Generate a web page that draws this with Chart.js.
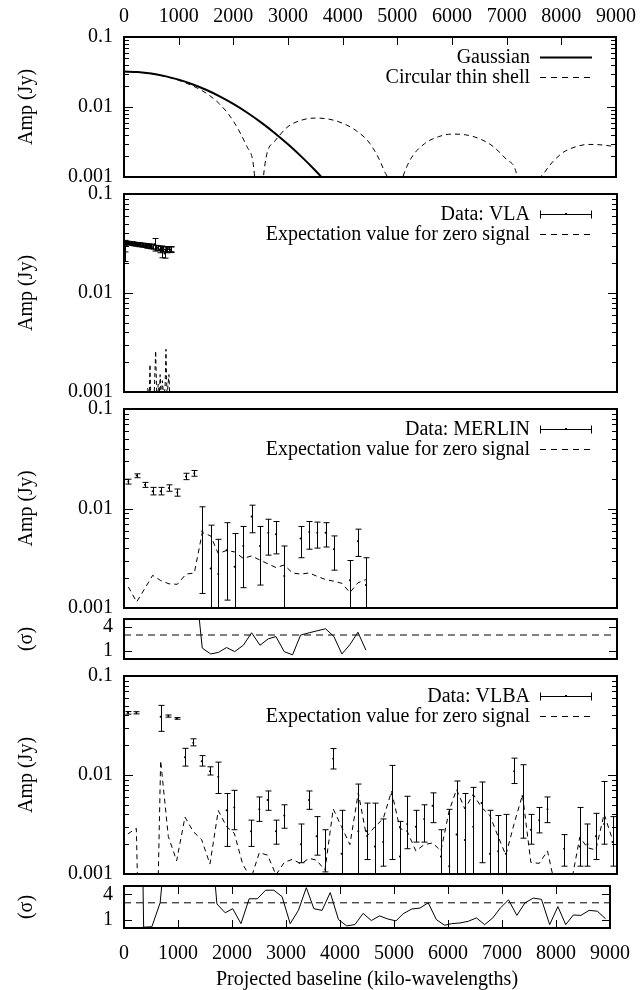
<!DOCTYPE html>
<html>
<head>
<meta charset="utf-8">
<script src="https://cdn.jsdelivr.net/npm/chart.js@4.4.0/dist/chart.umd.min.js"></script>
<style>
body { margin: 0; background: #fff; }
#hoja { position: relative; width: 644px; height: 990px; }
#hoja canvas { position: absolute; left: 0; }
</style>
</head>
<body>
<div id="hoja">
<canvas id="p1" width="644" height="200" style="top:0px"></canvas>
<canvas id="p2" width="644" height="244" style="top:171px"></canvas>
<canvas id="p3" width="644" height="245" style="top:386px"></canvas>
<canvas id="p4" width="644" height="86" style="top:596px"></canvas>
<canvas id="p5" width="644" height="244" style="top:653px"></canvas>
<canvas id="p6" width="644" height="127" style="top:863px"></canvas>
</div>
<script>
// ejes
const ticksX = [0, 1000, 2000, 3000, 4000, 5000, 6000, 7000, 8000, 9000];
const etiquetasX = ['0', '1000', '2000', '3000', '4000', '5000', '6000', '7000', '8000', '9000'];
const ticksAmp = [0.001, 0.01, 0.1];
const etiquetasAmp = ['0.001', '0.01', '0.1'];
const ticksSigma = [1, 4];
const etiquetasSigma = ['1', '4'];

// modelos (panel superior)
const gaussX = [0, 250, 500, 750, 1000, 1250, 1500, 1750, 2000, 2250, 2500, 2750, 3000, 3250, 3500, 3750];
const gaussAmp = [0.0321, 0.03154, 0.0300, 0.02761, 0.02458, 0.02117, 0.01763, 0.01421, 0.01108, 0.00835, 0.00609, 0.0043, 0.00293, 0.00194, 0.00124, 0.00076];
const shellX = [0, 250, 500, 750, 1000, 1250, 1500, 1750, 2000, 2250, 2400, 2470, 2550, 2750, 3000, 3250, 3500, 3750, 4000, 4250, 4500, 4750, 4900, 4940, 5000, 5100, 5250, 5500, 5750, 6000, 6250, 6500, 6750, 7000, 7200, 7410, 7500, 7700, 8000, 8250, 8500, 8750, 9000];
const shellAmp = [0.0320, 0.03147, 0.02989, 0.02737, 0.02404, 0.02012, 0.01583, 0.0110, 0.0063, 0.0027, 0.0008, 0.00001, 0.0010, 0.0032, 0.00525, 0.0065, 0.00695, 0.0067, 0.00586, 0.00457, 0.00299, 0.00127, 0.00026, 0.00001, 0.00038, 0.000995, 0.00184, 0.0030, 0.00376, 0.0041, 0.0040, 0.00353, 0.00274, 0.00177, 0.00094, 0.00001, 0.00038, 0.00118, 0.00215, 0.00268, 0.00292, 0.00287, 0.0027];

// VLA
const vlaX = [10, 25, 40, 60, 80, 100, 120, 140, 160, 180, 200, 225, 250, 275, 300, 325, 350, 375, 400, 425, 450, 475, 500, 530, 560, 590, 620, 650, 680, 700, 720, 740, 760, 790, 820, 850, 860];
const vlaAmp = [0.0256, 0.0300, 0.0322, 0.0318, 0.0323, 0.0316, 0.0319, 0.0314, 0.0317, 0.0311, 0.0314, 0.0309, 0.0312, 0.0306, 0.0309, 0.0303, 0.0306, 0.0300, 0.0303, 0.0297, 0.0300, 0.0294, 0.0297, 0.0291, 0.0310, 0.0288, 0.0284, 0.0275, 0.0282, 0.0262, 0.0278, 0.0250, 0.0276, 0.0272, 0.0279, 0.0274, 0.0277];
const vlaErr = [0.0048, 0.0040, 0.0012, 0.0010, 0.0010, 0.0011, 0.0010, 0.0012, 0.0011, 0.0012, 0.0011, 0.0012, 0.0011, 0.0013, 0.0012, 0.0012, 0.0013, 0.0012, 0.0013, 0.0014, 0.0013, 0.0014, 0.0015, 0.0014, 0.0045, 0.0015, 0.0016, 0.0020, 0.0016, 0.0035, 0.0017, 0.0025, 0.0018, 0.0017, 0.0016, 0.0018, 0.0016];
const vlaEspX = [400, 430, 460, 475, 490, 520, 550, 578, 600, 625, 645, 660, 680, 700, 725, 750, 766, 785, 805, 820, 840];
const vlaEsp = [0.0008, 0.0011, 0.0009, 0.0019, 0.0008, 0.0010, 0.0009, 0.0026, 0.0008, 0.0012, 0.0009, 0.0015, 0.0008, 0.0013, 0.0009, 0.0011, 0.0027, 0.0009, 0.0012, 0.0015, 0.0008];

// MERLIN
const merlinX = [79, 231, 383, 523, 669, 821, 973, 1131, 1284, 1429, 1582, 1721, 1874, 2020, 2178, 2330, 2482, 2634, 2774, 2925, 3077, 3224, 3382, 3528, 3680, 3832, 3978, 4124, 4270, 4416];
const merlinAmp = [0.0187, 0.0214, 0.0173, 0.0149, 0.0149, 0.0161, 0.0145, 0.0210, 0.0226, 0.0059, 0.0025, 0.0022, 0.0038, 0.0026, 0.0042, 0.0083, 0.0042, 0.0057, 0.0055, 0.0021, null, 0.0050, 0.0058, 0.0057, 0.0057, 0.0039, null, 0.0019, 0.0047, 0.0017];
const merlinLo = [0.0176, 0.0204, 0.0163, 0.0137, 0.0137, 0.0149, 0.0133, 0.0195, 0.0211, 0.0014, 0.0002, 0.0002, 0.0012, 0.0002, 0.0016, 0.0057, 0.0017, 0.0034, 0.0035, 0.0002, null, 0.0032, 0.0039, 0.0040, 0.0041, 0.0024, null, 0.0002, 0.0033, 0.0002];
const merlinHi = [0.0197, 0.0223, 0.0183, 0.0163, 0.0163, 0.0173, 0.0157, 0.0226, 0.0241, 0.0104, 0.0068, 0.0049, 0.0072, 0.0056, 0.0066, 0.0108, 0.0066, 0.0078, 0.0074, 0.0042, null, 0.0066, 0.0074, 0.0073, 0.0072, 0.0053, null, 0.0030, 0.0062, 0.0032];
const merlinEsp = [0.00163, 0.00115, 0.00158, 0.00213, 0.00189, 0.00175, 0.00173, 0.00219, 0.00225, 0.00573, 0.00531, 0.00352, 0.00379, 0.00366, 0.00315, 0.00334, 0.00303, 0.00277, 0.00255, 0.0027, 0.00225, 0.00219, 0.00225, 0.00208, 0.00193, 0.00186, 0.00177, 0.00143, 0.00179, 0.00193];
const merlinSig = [25, 28, 24, 22, 22, 23, 21, 12, 11, 1.36, 0.63, 0.82, 1.43, 0.92, 1.72, 3.28, 1.72, 2.52, 2.8, 0.92, 0.52, 2.99, 3.28, 3.53, 3.78, 2.8, 0.63, 1.79, 3.35, 1.11];

// VLBA
const vlbaX = [70, 225, 364, 516, 669, 809, 961, 1113, 1265, 1418, 1569, 1721, 1874, 2013, 2166, 2318, 2470, 2622, 2774, 2926, 3078, 3230, 3376, 3516, 3668, 3819, 3972, 4124, 4277, 4428, 4580, 4732, 4885, 5036, 5170, 5328, 5480, 5633, 5785, 5937, 6071, 6223, 6375, 6527, 6679, 6830, 6971, 7122, 7275, 7427, 7579, 7731, 7883, 8035, 8180, 8321, 8461, 8613, 8765, 8918];
const vlbaAmp = [0.0425, 0.0425, null, null, 0.0387, 0.0394, 0.0373, 0.0151, 0.0212, 0.0138,
  0.0109, 0.0096, 0.0044, 0.0047, null, 0.0027, 0.0045, 0.0056, 0.0027, 0.0039,
  null, 0.0020, 0.0056, 0.0024, 0.0018, 0.0146, 0.0016, null, 0.0027, 0.0027,
  0.0019, 0.0021, 0.0064, 0.0015, 0.0032, 0.0030, 0.0036, 0.0049, 0.0015, 0.0012,
  0.0025, 0.0022, 0.0030, 0.0052, 0.0016, 0.0017, 0.0016, 0.0109, 0.0061, 0.0028,
  0.0035, 0.0045, null, 0.0018, null, 0.0019, 0.0020, 0.0024, 0.0032, 0.0021];
const vlbaLo = [0.0412, 0.0414, null, null, 0.0276, 0.0384, 0.0366, 0.0123, 0.0197, 0.0123,
  0.0100, 0.0065, 0.0019, 0.0028, null, 0.0019, 0.0034, 0.0044, 0.0020, 0.0029,
  null, 0.0013, 0.0045, 0.00155, 0.00105, 0.0115, 0.0004, null, 0.0004, 0.0014,
  0.0004, 0.0012, 0.0014, 0.0004, 0.0018, 0.0021, 0.0021, 0.0033, 0.0004, 0.0004,
  0.0004, 0.0004, 0.0004, 0.0013, 0.0004, 0.0004, 0.0004, 0.0082, 0.0023, 0.0020,
  0.0026, 0.0033, null, 0.0012, null, 0.0012, 0.0012, 0.0014, 0.0020, 0.0012];
const vlbaHi = [0.0438, 0.0436, null, null, 0.0505, 0.0404, 0.0380, 0.0186, 0.0232, 0.0157,
  0.0121, 0.0135, 0.0065, 0.0070, null, 0.0035, 0.0060, 0.0069, 0.0035, 0.0050,
  null, 0.0032, 0.0069, 0.0038, 0.0028, 0.0185, 0.0044, null, 0.0081, 0.0052,
  0.0052, 0.0036, 0.0125, 0.0034, 0.0061, 0.0044, 0.0050, 0.0066, 0.0028, 0.0045,
  0.0087, 0.0065, 0.0075, 0.0085, 0.0044, 0.0039, 0.0040, 0.0148, 0.0127, 0.0040,
  0.0047, 0.0060, null, 0.0025, null, 0.0047, 0.0032, 0.0041, 0.0086, 0.0038];
const vlbaEsp = [0.00254, 0.00289, 0.000001, 0.000001, 0.0140, 0.00239, 0.00136, 0.00376, 0.00268, 0.00222,
  0.00126, 0.00437, 0.0030, 0.00258, 0.00126, 0.0009, 0.00164, 0.00155, 0.00098, 0.00131,
  0.00141, 0.00126, 0.00144, 0.00138, 0.00109, 0.00454, 0.0030, 0.00198, 0.0066, 0.00239,
  0.0030, 0.00362, 0.00686, 0.00289, 0.0027, 0.00171, 0.00198, 0.00206, 0.00171, 0.00437,
  0.00713, 0.00454, 0.00637, 0.00471, 0.0039, 0.00239, 0.00155, 0.00323, 0.0063, 0.00131,
  0.00128, 0.00171, 0.0007, 0.0006, 0.0009, 0.00236, 0.00184, 0.00175, 0.00404, 0.00222];
const vlbaSig = [60, 60, 0.1, 0.15, 3.0, 12.5, 20, 10, 15, 12,
  14, 2.86, 1.81, 2.3, 0.52, 3.48, 3.48, 4.5, 4.5, 3.74,
  0.52, 2.1, 4.8, 2.3, 2.1, 4.22, 1.0, 0.25, 0.41, 1.74,
  0.89, 1.44, 1.07, 0.85, 1.7, 2.26, 2.37, 3.0, 1.0, 0.33,
  0.52, 0.6, 0.8, 1.2, 0.4, 1.2, 2.4, 3.35, 1.5, 3.0,
  3.56, 3.41, 0.4, 2.55, 0.4, 1.55, 1.5, 2.1, 2.0, 1.1];

// linea de 3 sigma
const sigRefX = [0, 9000];
const sigRef = [3, 3];

const FUENTE = "'Liberation Serif', 'Times New Roman', serif";
Chart.defaults.font.family = FUENTE;
Chart.defaults.font.size = 20;
Chart.defaults.color = '#000';

function puntos(xs, ys) {
    return xs.map((v, i) => ({x: v, y: ys[i]}));
}

function linea(xs, ys, dash, ancho, suave) {
    return {
        data: puntos(xs, ys), showLine: true, pointRadius: 0, borderColor: '#000',
        borderWidth: ancho || 1, borderDash: dash || [], spanGaps: false,
        cubicInterpolationMode: suave ? 'monotone' : 'default'
    };
}

function conBarras(xs, ys, lo, hi) {
    return {
        data: puntos(xs, ys), lo: lo, hi: hi, showLine: false,
        pointRadius: 1, backgroundColor: '#000', borderWidth: 0
    };
}

// barras de error (vertical con remates)
const barras = {
    id: 'barras',
    afterDatasetsDraw(chart) {
        const {ctx, chartArea: a, scales: {x, y}} = chart;
        ctx.save();
        ctx.beginPath();
        ctx.rect(a.left, a.top, a.right - a.left, a.bottom - a.top);
        ctx.clip();
        ctx.strokeStyle = '#000';
        ctx.lineWidth = 1;
        chart.data.datasets.forEach(ds => {
            if (!ds.lo) return;
            ds.data.forEach((p, i) => {
                if (p.y == null || ds.lo[i] == null) return;
                const px = Math.round(x.getPixelForValue(p.x)) + 0.5;
                const y1 = y.getPixelForValue(ds.lo[i]);
                const y2 = y.getPixelForValue(ds.hi[i]);
                ctx.beginPath();
                ctx.moveTo(px, y1); ctx.lineTo(px, y2);
                ctx.moveTo(px - 3, y1); ctx.lineTo(px + 3, y1);
                ctx.moveTo(px - 3, y2); ctx.lineTo(px + 3, y2);
                ctx.stroke();
            });
        });
        ctx.restore();
    }
};

// marco y marcas hacia dentro
function hacerMarco(marcasX) {
    return {
        id: 'marco',
        afterDraw(chart) {
            const {ctx, chartArea: a, scales: {x, y}} = chart;
            ctx.save();
            ctx.strokeStyle = '#000';
            ctx.lineWidth = 1;
            ctx.beginPath();
            let marcasY = [];
            if (y.type === 'logarithmic') {
                for (let e = -3; e < -1; e++) {
                    for (let m = 1; m <= 9; m++) marcasY.push([m * Math.pow(10, e), m === 1 ? 9 : 5]);
                }
                marcasY.push([0.1, 9]);
            } else {
                ticksSigma.forEach(v => marcasY.push([v, 8]));
            }
            marcasY.forEach(([v, l]) => {
                const py = Math.round(y.getPixelForValue(v)) + 0.5;
                ctx.moveTo(a.left, py); ctx.lineTo(a.left + l, py);
                ctx.moveTo(a.right, py); ctx.lineTo(a.right - l, py);
            });
            ticksX.forEach(v => {
                const px = Math.round(x.getPixelForValue(v)) + 0.5;
                if (marcasX === 'top' || marcasX === 'both') { ctx.moveTo(px, a.top); ctx.lineTo(px, a.top + 8); }
                if (marcasX === 'both') { ctx.moveTo(px, a.bottom); ctx.lineTo(px, a.bottom - 8); }
            });
            ctx.stroke();
            ctx.lineWidth = 2;
            ctx.strokeRect(a.left, a.top, a.right - a.left, a.bottom - a.top);
            ctx.restore();
        }
    };
}

// leyenda estilo gnuplot: texto a la derecha, muestra a su lado
function hacerLeyenda(items) {
    return {
        id: 'leyenda',
        afterDraw(chart) {
            const {ctx, chartArea: a} = chart;
            items.forEach((it, i) => {
                const yy = Math.round(a.top + 20 + 20 * i) + 0.5;
                ctx.save();
                ctx.font = '20px ' + FUENTE;
                ctx.fillStyle = '#000';
                ctx.textAlign = 'right';
                ctx.textBaseline = 'middle';
                ctx.fillText(it.texto, 530, yy);
                ctx.strokeStyle = '#000';
                ctx.lineWidth = it.tipo === 'solido' ? 2 : 1;
                ctx.setLineDash(it.tipo === 'guion' ? [6, 5] : []);
                ctx.beginPath();
                ctx.moveTo(540, yy); ctx.lineTo(592, yy);
                if (it.tipo === 'error') {
                    ctx.moveTo(540.5, yy - 4); ctx.lineTo(540.5, yy + 4);
                    ctx.moveTo(591.5, yy - 4); ctx.lineTo(591.5, yy + 4);
                }
                ctx.stroke();
                if (it.tipo === 'error') ctx.fillRect(565, yy - 1.5, 2, 2);
                ctx.restore();
            });
        }
    };
}

function hacerPanel(id, cfg) {
    let ejeY;
    if (cfg.log) {
        ejeY = {
            type: 'logarithmic', min: 0.001, max: 0.1,
            afterBuildTicks: s => { s.ticks = ticksAmp.map(v => ({value: v})); },
            ticks: {padding: 11, autoSkip: false, callback: v => etiquetasAmp[ticksAmp.indexOf(v)]},
            title: {display: true, text: 'Amp (Jy)', padding: {top: 15, bottom: 0}}
        };
    } else {
        ejeY = {
            type: 'linear', min: 0, max: 5,
            afterBuildTicks: s => { s.ticks = ticksSigma.map(v => ({value: v})); },
            ticks: {padding: 11, autoSkip: false, callback: v => etiquetasSigma[ticksSigma.indexOf(v)]},
            title: {display: true, text: '(σ)', padding: {top: 15, bottom: 0}}
        };
    }
    ejeY.afterFit = s => { s.width = 124; };
    ejeY.grid = {display: false, drawTicks: false};
    ejeY.border = {display: false};

    const ejeX = {
        type: 'linear', min: 0, max: 9000,
        display: !!cfg.ejeX,
        position: cfg.ejeX === 'top' ? 'top' : 'bottom',
        afterBuildTicks: s => { s.ticks = ticksX.map(v => ({value: v})); },
        afterFit: s => { s.height = cfg.altoX || 0; },
        grid: {display: false, drawTicks: false},
        border: {display: false},
        ticks: {padding: cfg.ejeX === 'top' ? 8 : 14, autoSkip: false, maxRotation: 0, callback: v => etiquetasX[ticksX.indexOf(v)]},
        title: {display: !!cfg.tituloX, text: cfg.tituloX || '', font: {size: 20, lineHeight: 1}, padding: {top: 0, bottom: 0}}
    };

    return new Chart(document.getElementById(id), {
        type: 'scatter',
        data: {datasets: cfg.series},
        options: {
            responsive: false,
            animation: false,
            devicePixelRatio: 1,
            layout: {padding: {left: 0, right: 27, top: cfg.arriba, bottom: cfg.abajo}},
            elements: {line: {capBezierPoints: false}},
            plugins: {legend: {display: false}, tooltip: {enabled: false}},
            scales: {x: ejeX, y: ejeY}
        },
        plugins: [barras, hacerMarco(cfg.marcasX), hacerLeyenda(cfg.leyenda || [])]
    });
}

window.onload = function () {
    hacerPanel('p1', {
        log: true, ejeX: 'top', altoX: 37, arriba: 0, abajo: 20, marcasX: 'top',
        series: [linea(gaussX, gaussAmp, [], 2, true), linea(shellX, shellAmp, [5, 4], 1, true)],
        leyenda: [{texto: 'Gaussian', tipo: 'solido'}, {texto: 'Circular thin shell', tipo: 'guion'}]
    });
    hacerPanel('p2', {
        log: true, arriba: 20, abajo: 20,
        series: [conBarras(vlaX, vlaAmp, vlaAmp.map((v, i) => v - vlaErr[i]), vlaAmp.map((v, i) => v + vlaErr[i])),
                 linea(vlaEspX, vlaEsp, [4, 3], 1)],
        leyenda: [{texto: 'Data: VLA', tipo: 'error'}, {texto: 'Expectation value for zero signal', tipo: 'guion'}]
    });
    hacerPanel('p3', {
        log: true, arriba: 20, abajo: 20,
        series: [conBarras(merlinX, merlinAmp, merlinLo, merlinHi), linea(merlinX, merlinEsp, [5, 4], 1)],
        leyenda: [{texto: 'Data: MERLIN', tipo: 'error'}, {texto: 'Expectation value for zero signal', tipo: 'guion'}]
    });
    hacerPanel('p4', {
        log: false, arriba: 20, abajo: 20,
        series: [linea(merlinX, merlinSig, [], 1), linea(sigRefX, sigRef, [7, 5], 1)]
    });
    hacerPanel('p5', {
        log: true, arriba: 20, abajo: 20,
        series: [conBarras(vlbaX, vlbaAmp, vlbaLo, vlbaHi), linea(vlbaX, vlbaEsp, [5, 4], 1)],
        leyenda: [{texto: 'Data: VLBA', tipo: 'error'}, {texto: 'Expectation value for zero signal', tipo: 'guion'}]
    });
    hacerPanel('p6', {
        log: false, ejeX: 'bottom', altoX: 62, arriba: 20, abajo: 0, marcasX: 'both',
        tituloX: 'Projected baseline (kilo-wavelengths)',
        series: [linea(vlbaX, vlbaSig, [], 1), linea(sigRefX, sigRef, [7, 5], 1)]
    });
};
</script>
</body>
</html>
